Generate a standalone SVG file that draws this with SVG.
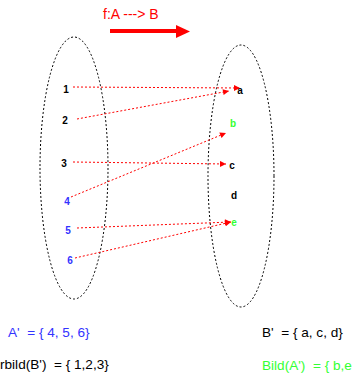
<svg xmlns="http://www.w3.org/2000/svg" width="361" height="376" viewBox="0 0 361 376">
<style>
.set{fill:none;stroke:#000;stroke-width:1;stroke-dasharray:2 2}
.map{fill:none;stroke:#ff0000;stroke-width:1;stroke-dasharray:2 2}
.lbl{font-family:"Liberation Sans",Arial,sans-serif;font-size:10px;font-weight:bold;text-anchor:middle}
.txt{font-family:"Liberation Sans",Arial,sans-serif;font-size:13.6px}
</style>
<defs>
<marker id="ah" viewBox="0 0 10 10" refX="10" refY="5" markerWidth="7" markerHeight="6" markerUnits="userSpaceOnUse" orient="auto">
<path d="M0,0 L10,5 L0,10 z" fill="#ff0000"/>
</marker>
</defs>
<rect width="361" height="376" fill="#fff"/>
<g id="title">
<text class="txt" x="103" y="19" fill="#ff0000" style="font-size:14px">f:A ---&gt; B</text>
<line x1="110" y1="31" x2="177" y2="31" stroke="#ff0000" stroke-width="4"/>
<path d="M176,25 L190,31.5 L176,38 z" fill="#ff0000"/>
</g>
<g id="setA"><ellipse class="set" cx="74" cy="168" rx="34" ry="131"/></g>
<g id="setB"><ellipse class="set" cx="241" cy="176" rx="33" ry="131"/></g>
<g id="connectors">
<line class="map" x1="73" y1="87" x2="240" y2="88" marker-end="url(#ah)"/>
<line class="map" x1="77" y1="119" x2="229" y2="91" marker-end="url(#ah)"/>
<line class="map" x1="73" y1="162" x2="226" y2="164" marker-end="url(#ah)"/>
<line class="map" x1="71" y1="197" x2="226" y2="133" marker-end="url(#ah)"/>
<line class="map" x1="77" y1="228" x2="231" y2="222" marker-end="url(#ah)"/>
<line class="map" x1="75" y1="258" x2="231" y2="222" marker-end="url(#ah)"/>
</g>
<g id="n1"><text class="lbl" x="66" y="93" fill="#000">1</text></g>
<g id="n2"><text class="lbl" x="65" y="124" fill="#000">2</text></g>
<g id="n3"><text class="lbl" x="64" y="167" fill="#000">3</text></g>
<g id="n4"><text class="lbl" x="67" y="205" fill="#3333ff">4</text></g>
<g id="n5"><text class="lbl" x="68" y="234" fill="#3333ff">5</text></g>
<g id="n6"><text class="lbl" x="70" y="264" fill="#3333ff">6</text></g>
<g id="na"><text class="lbl" x="240" y="94" fill="#000">a</text></g>
<g id="nb"><text class="lbl" x="233" y="127" fill="#33ff33">b</text></g>
<g id="nc"><text class="lbl" x="232" y="169" fill="#000">c</text></g>
<g id="nd"><text class="lbl" x="234" y="199" fill="#000">d</text></g>
<g id="ne"><text class="lbl" x="234" y="226" fill="#33ff33">e</text></g>
<g id="formulas">
<text class="txt" x="8" y="337" fill="#3333ff" xml:space="preserve">A'  = { 4, 5, 6}</text>
<text class="txt" x="262" y="337" fill="#000" xml:space="preserve">B'  = { a, c, d}</text>
<text class="txt" x="0" y="369" fill="#000" xml:space="preserve">rbild(B')  = { 1,2,3}</text>
<text class="txt" x="262" y="370" fill="#33ff33" xml:space="preserve">Bild(A')  = { b,e</text>
</g>
</svg>
